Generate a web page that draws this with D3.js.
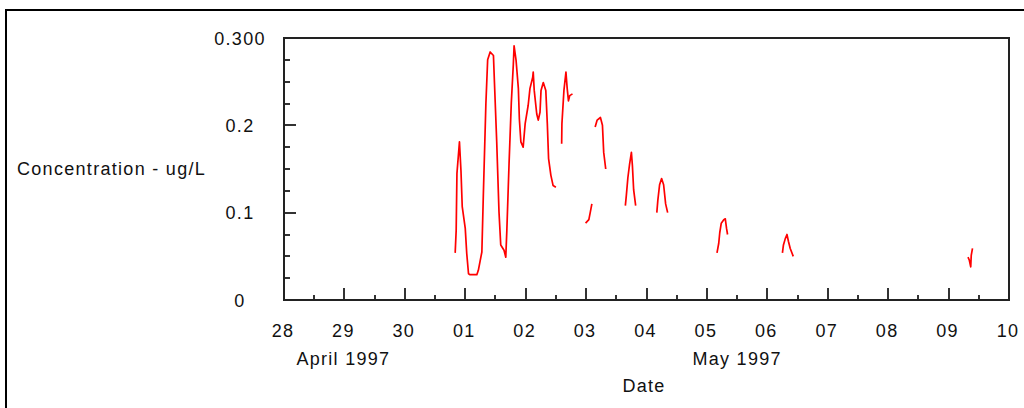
<!DOCTYPE html>
<html><head><meta charset="utf-8">
<script src="https://cdn.jsdelivr.net/npm/d3@7"></script>
<style>body{margin:0;background:#fff}svg{display:block}</style>
</head><body><svg id="c" width="1024" height="408"></svg>
<script>
// ---- data; null = gap in the record ----
const sampleTimes = [
 "1997-04-30 20:00","1997-04-30 20:24","1997-04-30 20:42","1997-04-30 21:42","1997-04-30 22:18","1997-04-30 22:48",
 "1997-05-01 00:00","1997-05-01 00:36","1997-05-01 01:18","1997-05-01 01:54","1997-05-01 04:36","1997-05-01 05:12",
 "1997-05-01 06:36","1997-05-01 07:12","1997-05-01 08:12","1997-05-01 08:54","1997-05-01 09:54","1997-05-01 11:12",
 "1997-05-01 11:36","1997-05-01 12:30","1997-05-01 13:24","1997-05-01 14:06","1997-05-01 15:24","1997-05-01 16:06",
 "1997-05-01 16:30","1997-05-01 17:24","1997-05-01 18:18","1997-05-01 19:06","1997-05-01 19:24","1997-05-01 20:12",
 "1997-05-01 21:06","1997-05-01 21:30","1997-05-01 22:06","1997-05-01 23:00","1997-05-01 23:48","1997-05-02 01:00",
 "1997-05-02 01:42","1997-05-02 02:48","1997-05-02 03:00","1997-05-02 03:24","1997-05-02 04:24","1997-05-02 05:00",
 "1997-05-02 05:42","1997-05-02 06:06","1997-05-02 07:00","1997-05-02 08:00","1997-05-02 08:36","1997-05-02 09:06",
 "1997-05-02 10:00","1997-05-02 10:54","1997-05-02 12:00",
 "1997-05-02 13:00",
 "1997-05-02 14:18","1997-05-02 14:24","1997-05-02 15:12","1997-05-02 16:00","1997-05-02 16:30","1997-05-02 17:00",
 "1997-05-02 17:30","1997-05-02 18:36",
 "1997-05-02 20:00",
 "1997-05-02 23:48","1997-05-03 01:06","1997-05-03 01:42","1997-05-03 02:18",
 "1997-05-03 03:00",
 "1997-05-03 03:36","1997-05-03 04:24","1997-05-03 05:42","1997-05-03 06:30","1997-05-03 07:00","1997-05-03 07:48",
 "1997-05-03 12:00",
 "1997-05-03 15:36","1997-05-03 16:00","1997-05-03 16:36","1997-05-03 17:18","1997-05-03 18:00","1997-05-03 18:24",
 "1997-05-03 18:54","1997-05-03 19:42",
 "1997-05-04 00:00",
 "1997-05-04 04:06","1997-05-04 04:30","1997-05-04 05:12","1997-05-04 06:00","1997-05-04 06:48","1997-05-04 07:36",
 "1997-05-04 08:24",
 "1997-05-04 12:00",
 "1997-05-05 04:00","1997-05-05 04:42","1997-05-05 05:06","1997-05-05 05:42","1997-05-05 06:42","1997-05-05 07:18",
 "1997-05-05 07:48","1997-05-05 08:12",
 "1997-05-05 12:00",
 "1997-05-06 06:00","1997-05-06 06:24","1997-05-06 07:06","1997-05-06 07:48","1997-05-06 08:24","1997-05-06 09:06",
 "1997-05-06 10:18",
 "1997-05-07 00:00",
 "1997-05-09 07:42","1997-05-09 08:12","1997-05-09 08:48","1997-05-09 09:00","1997-05-09 09:30"
];
const concentrations = [
 0.054,0.080,0.145,0.181,0.148,0.107,
 0.082,0.053,0.030,0.029,0.029,0.034,
 0.055,0.122,0.225,0.275,0.284,0.280,
 0.249,0.181,0.101,0.063,0.057,0.049,
 0.078,0.156,0.226,0.270,0.291,0.274,
 0.242,0.207,0.181,0.175,0.202,0.223,
 0.242,0.255,0.261,0.240,0.213,0.206,
 0.215,0.240,0.249,0.240,0.202,0.162,
 0.143,0.131,0.129,
 null,
 0.179,0.202,0.240,0.261,0.242,0.228,
 0.234,0.236,
 null,
 0.088,0.092,0.101,0.110,
 null,
 0.198,0.206,0.209,0.200,0.169,0.150,
 null,
 0.108,0.120,0.140,0.156,0.169,0.154,
 0.126,0.108,
 null,
 0.100,0.114,0.132,0.139,0.132,0.110,
 0.100,
 null,
 0.054,0.065,0.077,0.088,0.092,0.093,
 0.082,0.075,
 null,
 0.054,0.063,0.070,0.075,0.067,0.059,
 0.050,
 null,
 0.049,0.046,0.038,0.051,0.059
];
const xTickDates  = ["1997-04-28","1997-04-29","1997-04-30","1997-05-01","1997-05-02","1997-05-03","1997-05-04",
                     "1997-05-05","1997-05-06","1997-05-07","1997-05-08","1997-05-09","1997-05-10"];
const xTickLabels = ["28","29","30","01","02","03","04","05","06","07","08","09","10"];
const yTickValues = [0, 0.1, 0.2, 0.3];
const yTickLabels = ["0", "0.1", "0.2", "0.300"];
const monthLabels = ["April 1997", "May 1997"];
const monthCenters = ["1997-04-29 00:00", "1997-05-05 12:00"];
const yTitle = "Concentration - ug/L";
const xTitle = "Date";

// ---- drawing ----
(function () {
const parseT = d3.timeParse("%Y-%m-%d %H:%M");
const parseD = d3.timeParse("%Y-%m-%d");
const svg = d3.select("#c");
const font = "'Liberation Sans', Arial, sans-serif";
const pL = 284, pR = 1009, pT = 38, pB = 300;

const x = d3.scaleTime().domain([parseD(xTickDates[0]), parseD(xTickDates[xTickDates.length-1])]).range([pL, pR]);
const y = d3.scaleLinear().domain([0, 0.3]).range([pB, pT]);

svg.append("rect").attr("width",1024).attr("height",408).attr("fill","#fff");
// outer frame
svg.append("rect").attr("x",6).attr("y",10).attr("width",1040).attr("height",420)
  .attr("fill","none").attr("stroke","#000").attr("stroke-width",2);

// minor ticks
const minorX = d3.timeHour.every(12).range(x.domain()[0], x.domain()[1]);
const minorY = d3.range(0, 0.3001, 0.025);
const tickColor = "#333";
svg.append("g").selectAll("line").data(minorX).join("line")
  .attr("x1", d => Math.round(x(d))).attr("x2", d => Math.round(x(d)))
  .attr("y1", pB).attr("y2", pB-5).attr("stroke",tickColor).attr("stroke-width",2);
svg.append("g").selectAll("line").data(minorY).join("line")
  .attr("y1", d => Math.round(y(d))).attr("y2", d => Math.round(y(d)))
  .attr("x1", pL).attr("x2", pL+6).attr("stroke",tickColor).attr("stroke-width",2);
// major ticks
const xDates = xTickDates.map(parseD);
svg.append("g").selectAll("line").data(xDates).join("line")
  .attr("x1", d => Math.round(x(d))).attr("x2", d => Math.round(x(d)))
  .attr("y1", pB).attr("y2", pB-12).attr("stroke",tickColor).attr("stroke-width",2);
svg.append("g").selectAll("line").data(yTickValues).join("line")
  .attr("y1", d => Math.round(y(d))).attr("y2", d => Math.round(y(d)))
  .attr("x1", pL).attr("x2", pL+12).attr("stroke",tickColor).attr("stroke-width",2);

// plot box
svg.append("rect").attr("x",pL).attr("y",pT).attr("width",pR-pL).attr("height",pB-pT)
  .attr("fill","none").attr("stroke","#222").attr("stroke-width",2);

// series
const pts = sampleTimes.map((t,i) => ({t: parseT(t), v: concentrations[i]}));
const line = d3.line().defined(d => d.v !== null).x(d => x(d.t)).y(d => y(d.v));
svg.append("path").datum(pts).attr("d", line).attr("fill","none")
  .attr("stroke","#ff0000").attr("stroke-width",1.7).attr("stroke-linejoin","round");

// text
const txt = (s, xx, yy, anchor) => svg.append("text").text(s).attr("x",xx).attr("y",yy)
  .attr("text-anchor",anchor).attr("font-family",font).attr("font-size",18)
  .attr("letter-spacing","1.3px").attr("fill","#111");
yTickValues.forEach((v,i) => txt(yTickLabels[i], 240, y(v)+6.5, "middle"));
xDates.forEach((d,i) => txt(xTickLabels[i], x(d)-1, 336.5, "middle"));
monthLabels.forEach((m,i) => txt(m, x(parseT(monthCenters[i])) + (i===0 ? -1 : 0), 364.5, "middle"));
txt(yTitle, 17, 174.5, "start");
txt(xTitle, 644, 392, "middle");
})();
</script></body></html>
